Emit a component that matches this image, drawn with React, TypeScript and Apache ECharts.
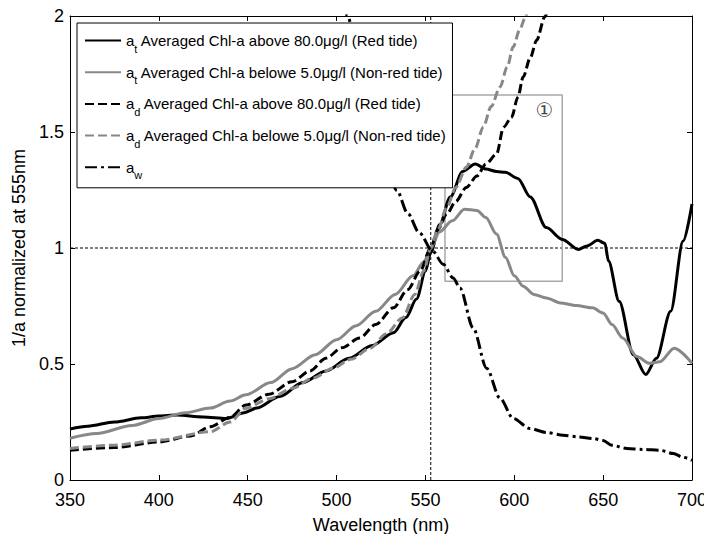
import React, { useEffect, useRef } from "react";
import * as echarts from "echarts";

// ---- data ----
const xTicks = [350, 400, 450, 500, 550, 600, 650, 700];
const yTicks = [0, 0.5, 1, 1.5, 2];

const atRedWl = [350, 360, 375, 390, 400, 410, 425, 438, 448, 455, 468, 481, 494, 507, 520, 532, 539, 545, 550, 553, 558, 564, 571, 578, 584, 590, 595, 602, 609, 618, 627, 636, 641, 647, 651, 653, 659, 667, 674, 680, 688, 695, 700];
const atRedVal = [0.22, 0.232, 0.25, 0.268, 0.276, 0.28, 0.272, 0.265, 0.29, 0.31, 0.36, 0.42, 0.47, 0.525, 0.58, 0.635, 0.7, 0.78, 0.9, 0.98, 1.1, 1.22, 1.33, 1.362, 1.34, 1.33, 1.326, 1.3, 1.22, 1.088, 1.037, 0.994, 1.009, 1.033, 1.02, 0.944, 0.77, 0.54, 0.455, 0.525, 0.727, 1.03, 1.19];

const atNonWl = [350, 365, 385, 400, 415, 429, 440, 449, 463, 475, 488, 500, 511, 522, 533, 543, 549, 553, 558, 565, 572, 579, 584, 590, 595, 600, 605, 611, 618, 626, 635, 644, 650, 655, 661, 669, 676, 682, 690, 700];
const atNonVal = [0.18, 0.2, 0.235, 0.265, 0.29, 0.31, 0.34, 0.367, 0.42, 0.48, 0.54, 0.605, 0.665, 0.727, 0.8, 0.88, 0.94, 1.0, 1.07, 1.117, 1.167, 1.162, 1.131, 1.06, 0.96, 0.88, 0.835, 0.8, 0.785, 0.763, 0.752, 0.742, 0.72, 0.67, 0.612, 0.532, 0.503, 0.51, 0.568, 0.503];

const adRedWl = [350, 375, 400, 418, 429, 440, 449, 462, 475, 485, 494, 503, 513, 522, 532, 540, 547, 553, 557, 562, 567, 573, 579, 584, 590, 594, 598.5, 602, 605, 609, 612.6, 617.2, 620];
const adRedVal = [0.128, 0.14, 0.164, 0.19, 0.23, 0.27, 0.323, 0.37, 0.424, 0.47, 0.525, 0.57, 0.612, 0.67, 0.742, 0.82, 0.9, 1.0, 1.08, 1.146, 1.2, 1.261, 1.31, 1.362, 1.405, 1.521, 1.564, 1.65, 1.737, 1.82, 1.896, 1.997, 2.06];

const adNonWl = [350, 375, 400, 429, 440, 449, 462, 475, 487, 498, 508, 519, 528, 537, 544, 549, 553, 557, 562, 567, 573, 578, 582.5, 587, 592, 596, 599.4, 603, 606, 608];
const adNonVal = [0.136, 0.15, 0.172, 0.208, 0.25, 0.309, 0.35, 0.395, 0.44, 0.482, 0.52, 0.568, 0.63, 0.698, 0.8, 0.9, 1.0, 1.08, 1.174, 1.26, 1.348, 1.43, 1.521, 1.61, 1.694, 1.78, 1.867, 1.94, 1.99, 2.05];

const awWl = [503, 506, 515, 525, 534, 540, 546.5, 554, 560, 565.6, 569.4, 576.9, 584.4, 592, 599.4, 608.8, 618, 627.5, 636, 644.4, 650, 654.8, 663.2, 672, 682, 689.5, 695, 700];
const awVal = [2.15, 2.0, 1.7, 1.45, 1.247, 1.15, 1.066, 0.987, 0.93, 0.871, 0.828, 0.655, 0.482, 0.352, 0.265, 0.222, 0.205, 0.193, 0.186, 0.179, 0.17, 0.15, 0.136, 0.132, 0.128, 0.114, 0.098, 0.085];

const refWl = 553;
const refVal = 1;
const boxWl = [561, 627];
const boxVal = [0.857, 1.66];
const boxLabel = "\u2460";

const names = [
  "at Averaged Chl-a above 80.0\u03bcg/l (Red tide)",
  "at Averaged Chl-a belowe 5.0\u03bcg/l (Non-red tide)",
  "ad Averaged Chl-a above 80.0\u03bcg/l (Red tide)",
  "ad Averaged Chl-a belowe 5.0\u03bcg/l (Non-red tide)",
  "aw",
];
const legendRich = [
  "{m|a}{s|t}{m| Averaged Chl-a above 80.0\u03bcg/l (Red tide)}",
  "{m|a}{s|t}{m| Averaged Chl-a belowe 5.0\u03bcg/l (Non-red tide)}",
  "{m|a}{s|d}{m| Averaged Chl-a above 80.0\u03bcg/l (Red tide)}",
  "{m|a}{s|d}{m| Averaged Chl-a belowe 5.0\u03bcg/l (Non-red tide)}",
  "{m|a}{s|w}",
];

const FONT = "'Liberation Sans', Arial, sans-serif";

const zip = (a: number[], b: number[]) => a.map((v, i) => [v, b[i]]);

export default function App() {
  const ref = useRef<HTMLDivElement>(null);
  useEffect(() => {
    if (!ref.current) return;
    const chart = echarts.init(ref.current, undefined, { renderer: "svg" });
    const lineSeries = (name: string, wl: number[], val: number[], color: string, type: any) => ({
      name,
      type: "line",
      data: zip(wl, val),
      symbol: "none",
      smooth: 0.3,
      smoothMonotone: "x",
      clip: true,
      lineStyle: { color, width: 3, type },
      itemStyle: { color },
      z: 3,
    });
    const axisCommon = {
      axisLine: { show: true, onZero: false, lineStyle: { color: "#000", width: 1 } },
      axisTick: { show: true, inside: true, length: 5, lineStyle: { color: "#000" } },
      splitLine: { show: false },
    };
    chart.setOption({
      animation: false,
      backgroundColor: "#fff",
      grid: { left: 70, right: 20, top: 16, bottom: 62 },
      legend: {
        data: names,
        orient: "vertical",
        left: 77,
        top: 23,
        backgroundColor: "#fff",
        borderColor: "#000",
        borderWidth: 1,
        borderRadius: 0,
        padding: [4, 6, 7, 7],
        itemGap: 4.7,
        itemWidth: 36,
        itemHeight: 14,
        itemTextGap: 5,
        selectedMode: false,
        itemStyle: { opacity: 0 },
        formatter: (n: string) => legendRich[names.indexOf(n)],
        textStyle: {
          fontFamily: FONT,
          fontSize: 15,
          color: "#000",
          rich: {
            m: { fontFamily: FONT, fontSize: 15, lineHeight: 16, verticalAlign: "middle", color: "#000" },
            s: { fontFamily: FONT, fontSize: 11, lineHeight: 12, padding: [16, 0, 0, 0], verticalAlign: "middle", color: "#000" },
          },
        },
      },
      xAxis: [
        {
          type: "value",
          min: xTicks[0],
          max: xTicks[xTicks.length - 1],
          interval: 50,
          position: "bottom",
          name: "Wavelength (nm)",
          nameLocation: "middle",
          nameGap: 36,
          nameTextStyle: { fontFamily: FONT, fontSize: 18, color: "#000" },
          axisLabel: { fontFamily: FONT, fontSize: 18, color: "#000", margin: 11 },
          ...axisCommon,
        },
        {
          type: "value",
          min: xTicks[0],
          max: xTicks[xTicks.length - 1],
          interval: 50,
          position: "top",
          axisLabel: { show: false },
          ...axisCommon,
        },
      ],
      yAxis: [
        {
          type: "value",
          min: yTicks[0],
          max: yTicks[yTicks.length - 1],
          interval: 0.5,
          position: "left",
          name: "1/a normalized at 555nm",
          nameLocation: "middle",
          nameRotate: 90,
          nameGap: 36,
          nameTextStyle: { fontFamily: FONT, fontSize: 18, color: "#000" },
          axisLabel: { fontFamily: FONT, fontSize: 18, color: "#000", margin: 6 },
          ...axisCommon,
        },
        {
          type: "value",
          min: yTicks[0],
          max: yTicks[yTicks.length - 1],
          interval: 0.5,
          position: "right",
          axisLabel: { show: false },
          ...axisCommon,
        },
      ],
      series: [
        {
          name: "refH",
          type: "line",
          data: [[xTicks[0], refVal], [xTicks[xTicks.length - 1], refVal]],
          symbol: "none",
          lineStyle: { color: "#000", width: 1, type: [3, 2] },
          z: 1,
          silent: true,
        },
        {
          name: "refV",
          type: "line",
          data: [[refWl, yTicks[0]], [refWl, yTicks[yTicks.length - 1]]],
          symbol: "none",
          lineStyle: { color: "#000", width: 1, type: [3, 2] },
          z: 1,
          silent: true,
        },
        {
          name: "box",
          type: "line",
          data: [
            [boxWl[0], boxVal[1]],
            [boxWl[1], boxVal[1]],
            [boxWl[1], boxVal[0]],
            [boxWl[0], boxVal[0]],
            [boxWl[0], boxVal[1]],
          ],
          symbol: "none",
          lineStyle: { color: "#a8a8a8", width: 1.5 },
          z: 2,
          silent: true,
        },
        {
          name: "boxLabel",
          type: "scatter",
          data: [[boxWl[1] - 10, boxVal[1] - 0.065]],
          symbolSize: 0,
          label: {
            show: true,
            formatter: boxLabel,
            position: "inside",
            fontFamily: "'DejaVu Sans', sans-serif",
            fontSize: 20,
            color: "#111",
          },
          z: 2,
          silent: true,
        },
        lineSeries(names[0], atRedWl, atRedVal, "#000", "solid"),
        lineSeries(names[1], atNonWl, atNonVal, "#888", "solid"),
        lineSeries(names[2], adRedWl, adRedVal, "#000", [9, 4]),
        lineSeries(names[3], adNonWl, adNonVal, "#888", [9, 4]),
        lineSeries(names[4], awWl, awVal, "#000", [12, 4, 3, 4]),
      ],
    });
    return () => chart.dispose();
  }, []);
  return <div ref={ref} style={{ width: 712, height: 542, margin: -8 }} />;
}
